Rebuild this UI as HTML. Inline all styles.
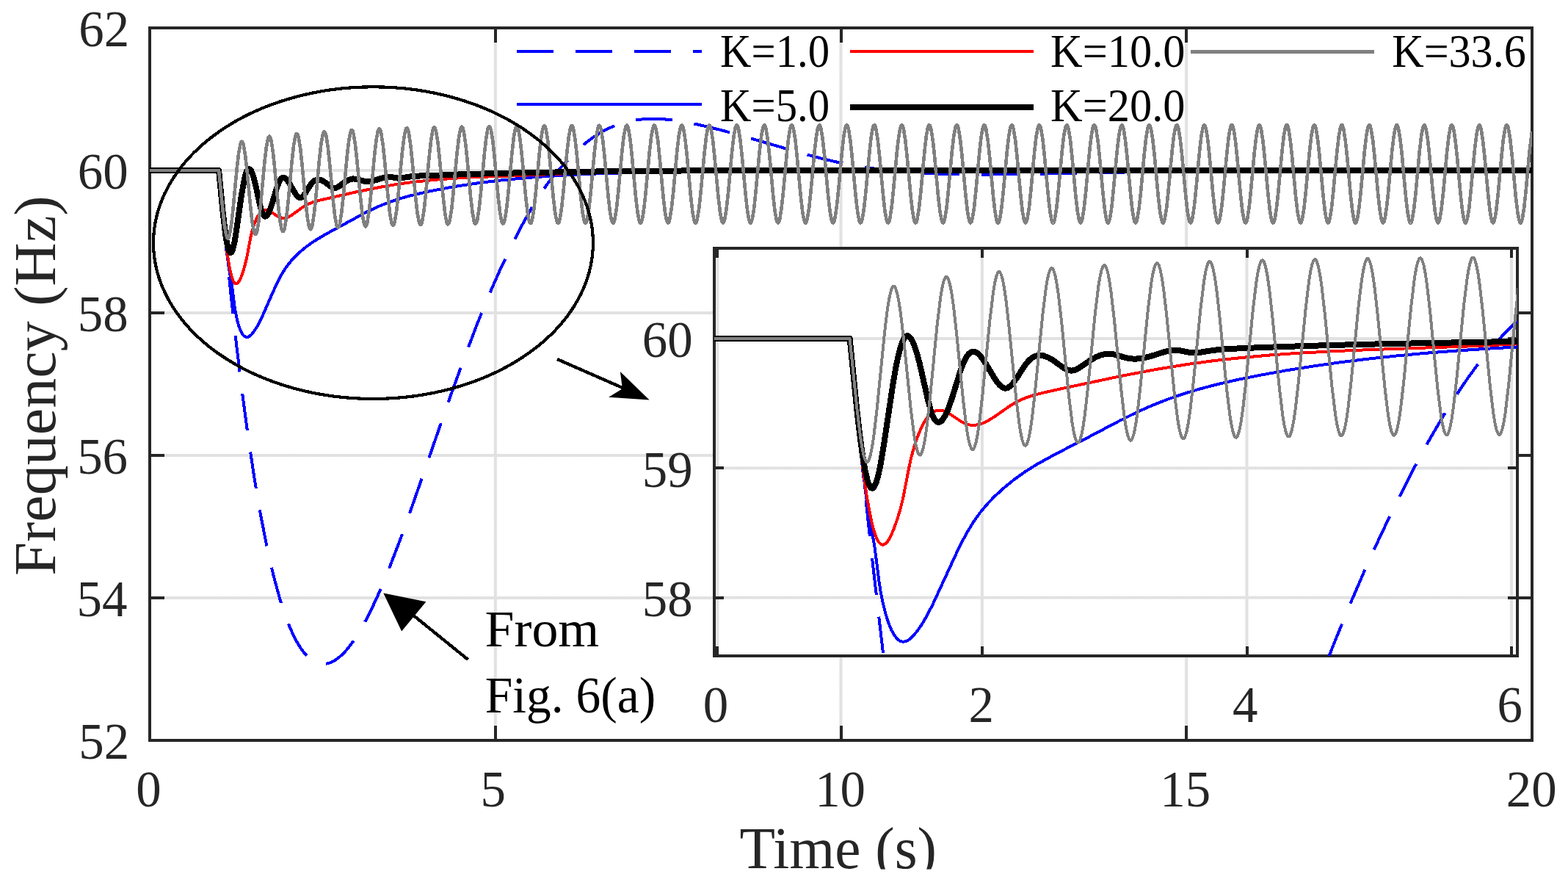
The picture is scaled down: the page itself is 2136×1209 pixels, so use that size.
<!DOCTYPE html>
<html><head><meta charset="utf-8"><title>Frequency response</title><style>html,body{margin:0;padding:0;background:#fff;}svg{display:block;}</style></head>
<body>
<svg width="2136" height="1209" viewBox="0 0 2136 1209">
<defs><pattern id="chk" width="2" height="2" patternUnits="userSpaceOnUse"><rect width="2" height="2" fill="#fff"/><rect width="1" height="1" fill="#c4c4c4"/><rect x="1" y="1" width="1" height="1" fill="#c4c4c4"/></pattern><clipPath id="cm"><rect x="204.0" y="38.0" width="1883.0" height="970.0"/></clipPath><clipPath id="ci"><rect x="973.0" y="338.0" width="1094.0" height="555.0"/></clipPath><clipPath id="cb"><rect x="0" y="0" width="2136" height="1183.5"/></clipPath></defs>
<rect width="2136" height="1209" fill="#fff"/>
<rect x="672.8" y="38.0" width="4.0" height="970.0" fill="url(#chk)"/>
<rect x="1143.5" y="38.0" width="4.0" height="970.0" fill="url(#chk)"/>
<rect x="1614.2" y="38.0" width="4.0" height="970.0" fill="url(#chk)"/>
<rect x="204.0" y="812.0" width="1883.0" height="4.0" fill="url(#chk)"/>
<rect x="204.0" y="618.0" width="1883.0" height="4.0" fill="url(#chk)"/>
<rect x="204.0" y="424.0" width="1883.0" height="4.0" fill="url(#chk)"/>
<rect x="204.0" y="230.0" width="1883.0" height="4.0" fill="url(#chk)"/>
<g stroke="#262626" stroke-width="4" fill="none" shape-rendering="crispEdges">
<rect x="204.0" y="38.0" width="1883.0" height="970.0" stroke-linejoin="miter"/>
<path d="M674.8 1008.0 V988.0 M674.8 38.0 V58.0 M1145.5 1008.0 V988.0 M1145.5 38.0 V58.0 M1616.2 1008.0 V988.0 M1616.2 38.0 V58.0 M204.0 814.0 H224.0 M2087.0 814.0 H2067.0 M204.0 620.0 H224.0 M2087.0 620.0 H2067.0 M204.0 426.0 H224.0 M2087.0 426.0 H2067.0 M204.0 232.0 H224.0 M2087.0 232.0 H2067.0 "/>
</g>
<g clip-path="url(#cm)" fill="none" stroke-linejoin="round" shape-rendering="crispEdges">
<path d="M204.0 232.0 L298.1 232.0 L305.9 316.0 L313.9 395.0 L322.0 468.4 L330.2 536.2 L338.4 597.4 L346.7 652.3 L355.1 701.3 L363.7 744.9 L372.3 782.7 L381.2 815.3 L385.8 829.7 L390.3 842.6 L395.0 854.4 L399.7 864.9 L404.5 874.0 L409.3 882.0 L414.2 888.7 L419.3 894.2 L424.4 898.4 L429.6 901.5 L435.0 903.3 L440.5 903.9 L444.6 903.6 L448.7 902.6 L452.9 900.9 L457.1 898.5 L461.4 895.4 L465.7 891.6 L470.1 887.2 L474.5 882.1 L483.6 869.7 L493.0 854.5 L502.6 836.4 L512.7 815.3 L520.5 797.4 L528.8 777.4 L546.7 730.6 L563.6 683.1 L613.4 539.8 L632.3 487.9 L649.7 441.9 L664.5 405.3 L680.2 369.6 L696.7 334.8 L712.3 304.4 L726.8 278.9 L733.8 267.7 L740.7 257.4 L747.2 248.4 L753.9 239.7 L761.3 231.1 L769.6 221.9 L779.0 212.0 L787.4 203.8 L795.1 196.9 L802.8 190.8 L810.8 185.1 L819.0 180.1 L827.3 175.6 L835.8 171.8 L845.4 168.3 L855.3 165.5 L865.6 163.5 L876.1 162.3 L887.0 161.7 L898.4 161.9 L910.4 162.8 L923.3 164.4 L935.7 166.5 L949.6 169.3 L980.7 176.7 L1011.8 185.2 L1096.2 209.8 L1121.7 216.4 L1144.6 221.7 L1172.5 226.9 L1201.6 231.0 L1232.1 234.1 L1264.5 236.2 L1301.4 237.4 L1343.5 237.6 L1446.8 236.2 L1541.9 234.3 L1647.6 233.2 L1819.1 232.4 L2087.0 232.1" stroke="#0000ff" stroke-width="4.0" stroke-dasharray="50 30" stroke-dashoffset="0.0"/>
<path d="M204.0 232.0 L298.1 232.0 L299.6 240.2 L301.2 254.6 L306.7 320.5 L309.1 344.5 L311.3 361.4 L315.8 387.8 L320.2 422.3 L323.7 438.2 L325.6 444.7 L327.6 450.0 L329.6 454.0 L331.7 456.8 L333.9 458.5 L336.2 459.1 L337.7 458.8 L339.3 458.1 L342.8 455.3 L346.6 450.4 L350.7 443.8 L358.1 429.0 L371.8 397.6 L377.8 384.8 L383.7 373.4 L389.5 364.2 L397.0 354.8 L406.1 345.3 L416.3 336.6 L427.5 328.6 L442.3 319.7 L498.3 289.2 L515.4 281.1 L533.1 274.2 L544.5 270.5 L556.6 267.0 L584.4 260.5 L619.8 253.9 L657.2 248.4 L683.8 245.3 L712.0 242.5 L742.4 240.2 L775.2 238.1 L812.7 236.5 L854.6 235.2 L955.9 233.4 L1067.8 232.6 L1228.1 232.2 L2087.0 232.0" stroke="#0000ff" stroke-width="4.0"/>
<path d="M204.0 232.0 L298.1 232.0 L304.3 301.4 L307.3 328.5 L310.3 350.1 L313.1 366.3 L315.9 377.7 L317.3 381.6 L318.7 384.3 L320.1 385.9 L321.6 386.5 L322.8 386.2 L324.0 385.3 L326.5 381.6 L329.2 375.4 L332.2 366.4 L336.1 351.3 L341.8 320.9 L344.1 312.4 L346.8 304.2 L349.5 297.7 L352.3 292.6 L355.2 288.9 L358.2 286.6 L361.4 285.7 L364.9 286.2 L368.7 288.0 L376.7 293.7 L380.2 295.6 L384.3 296.8 L388.6 296.6 L392.7 295.4 L397.2 293.0 L412.3 282.2 L418.1 278.7 L425.4 275.6 L434.0 273.0 L485.9 261.2 L523.2 253.8 L539.9 251.0 L556.8 248.6 L593.0 244.7 L618.3 242.8 L646.6 241.2 L736.9 237.8 L789.5 235.4 L849.3 233.8 L925.0 232.8 L1019.7 232.3 L1161.6 232.1 L2087.0 232.0" stroke="#ff0000" stroke-width="4.0"/>
<path d="M204.0 232.0 L298.1 232.0 L303.2 285.2 L307.1 318.7 L308.9 330.0 L310.7 338.0 L312.3 342.6 L313.2 343.7 L314.0 344.1 L315.4 343.2 L316.8 340.2 L318.2 335.3 L319.7 328.4 L322.2 312.8 L329.0 265.3 L332.8 244.4 L334.4 237.9 L335.9 233.5 L337.4 230.9 L339.0 229.9 L340.5 230.6 L342.1 232.6 L343.7 236.1 L345.4 241.2 L348.6 253.7 L354.3 280.2 L356.4 287.9 L358.8 293.0 L360.1 294.3 L361.3 294.7 L362.8 294.2 L364.3 292.6 L365.9 289.9 L367.6 286.1 L370.7 277.2 L376.9 256.1 L379.9 248.2 L381.4 245.4 L382.8 243.4 L384.3 242.2 L385.9 241.7 L388.4 242.5 L391.0 245.0 L394.1 249.4 L400.6 260.8 L403.4 265.1 L406.3 268.2 L407.7 269.0 L408.9 269.2 L410.1 269.0 L411.4 268.3 L414.1 265.7 L422.6 252.2 L425.6 248.3 L428.9 245.7 L432.4 244.6 L435.5 244.7 L439.0 245.9 L442.8 248.2 L451.3 254.6 L453.8 255.7 L456.0 256.0 L458.2 255.6 L460.6 254.5 L469.0 248.4 L473.5 245.7 L477.3 244.1 L480.9 243.4 L485.8 243.8 L496.5 246.8 L501.9 247.2 L508.7 246.2 L522.4 241.8 L528.5 240.7 L532.2 240.8 L540.3 242.4 L543.9 242.7 L558.7 240.5 L571.6 239.5 L626.8 237.4 L688.9 235.7 L835.3 233.1 L977.3 232.2 L2087.0 232.0" stroke="#000000" stroke-width="8.0"/>
<path d="M204.0 232.0 L298.1 232.0 L303.5 285.9 L305.8 306.4 L308.3 320.3 L309.5 323.6 L310.1 324.4 L310.6 324.5 L311.8 323.0 L312.9 319.1 L315.4 303.9 L317.6 283.2 L322.8 228.4 L325.3 207.4 L327.6 195.8 L328.7 193.2 L329.3 192.8 L329.8 192.9 L330.9 194.6 L332.0 198.6 L334.4 213.7 L336.6 233.2 L341.5 284.5 L343.9 304.5 L346.1 315.9 L347.1 318.5 L347.6 319.1 L348.1 319.2 L349.3 317.7 L350.5 313.7 L352.9 298.0 L355.2 276.9 L360.3 222.0 L362.8 200.6 L365.0 188.9 L366.1 186.2 L366.6 185.7 L367.1 185.6 L368.2 187.3 L369.4 191.2 L371.8 206.4 L374.0 226.8 L379.0 279.7 L381.4 300.4 L383.6 311.8 L384.6 314.5 L385.1 315.1 L385.7 315.2 L386.8 313.7 L388.0 309.7 L390.4 294.1 L392.7 273.0 L397.8 218.1 L400.2 197.1 L402.4 185.3 L403.5 182.5 L404.0 182.0 L404.5 181.9 L405.7 183.6 L406.8 187.5 L409.2 202.6 L411.4 223.0 L416.5 276.6 L418.9 297.0 L421.0 308.7 L422.1 311.4 L423.1 312.2 L424.2 310.8 L425.4 306.9 L427.8 291.5 L430.1 270.5 L435.2 215.2 L437.7 194.2 L439.9 182.6 L440.9 179.8 L441.5 179.2 L442.0 179.2 L443.1 180.7 L444.3 184.8 L446.7 200.0 L448.9 220.5 L453.9 274.3 L456.3 294.8 L458.5 306.4 L459.5 309.2 L460.6 310.0 L461.7 308.6 L462.9 304.6 L465.3 289.2 L467.6 268.2 L472.7 213.4 L475.1 192.3 L477.3 180.6 L478.4 177.7 L478.9 177.1 L479.4 177.0 L480.5 178.5 L481.7 182.6 L484.1 197.7 L486.3 218.2 L491.4 272.6 L493.8 293.1 L496.0 304.8 L497.0 307.5 L498.0 308.3 L499.2 306.9 L500.3 302.9 L502.8 287.5 L505.1 266.4 L510.1 211.6 L512.6 190.6 L514.7 178.9 L515.8 176.2 L516.3 175.6 L516.8 175.4 L518.0 176.9 L519.1 180.8 L521.6 196.3 L523.8 216.8 L528.9 271.3 L531.3 291.9 L533.4 303.3 L534.4 306.2 L535.5 307.0 L536.0 306.7 L536.6 305.6 L537.8 301.7 L540.3 286.2 L542.5 265.1 L547.6 210.3 L550.1 189.3 L552.2 177.8 L553.2 175.0 L554.2 174.2 L555.4 175.6 L556.6 179.5 L559.0 194.9 L561.3 215.8 L566.3 270.4 L568.7 291.0 L570.9 302.4 L571.9 305.3 L572.9 306.1 L573.5 305.7 L574.1 304.7 L575.3 300.7 L577.7 285.2 L580.0 264.1 L585.0 209.7 L587.5 188.6 L589.6 176.9 L590.7 174.1 L591.7 173.3 L592.8 174.7 L594.0 178.6 L596.5 194.1 L598.7 215.1 L603.8 269.3 L606.2 290.3 L608.3 301.8 L609.4 304.6 L610.4 305.4 L611.5 304.1 L612.7 300.2 L615.2 284.8 L617.4 263.8 L622.5 208.9 L625.0 187.8 L627.1 176.3 L628.1 173.4 L629.1 172.6 L630.3 173.9 L631.5 177.8 L633.9 193.1 L636.2 214.1 L641.2 268.8 L643.7 289.8 L645.8 301.3 L646.8 304.1 L647.9 304.9 L649.0 303.5 L650.2 299.6 L652.6 284.2 L654.9 263.1 L660.0 208.3 L662.4 187.2 L664.5 175.7 L665.6 172.9 L666.6 172.0 L667.7 173.4 L668.9 177.3 L671.4 192.7 L673.6 213.7 L678.7 268.5 L681.1 289.2 L683.2 300.7 L684.3 303.6 L685.3 304.5 L685.9 304.2 L686.5 303.1 L687.7 299.2 L690.1 283.7 L692.4 262.6 L697.5 207.8 L699.9 186.7 L702.0 175.2 L703.1 172.5 L704.1 171.6 L705.2 173.0 L706.4 176.9 L708.8 192.4 L711.1 213.4 L716.2 268.2 L718.6 288.9 L720.7 300.5 L721.7 303.3 L722.8 304.2 L723.3 303.9 L724.0 302.8 L725.1 298.9 L727.6 283.3 L729.8 262.2 L734.9 207.3 L737.3 186.6 L739.4 175.1 L740.5 172.2 L741.5 171.3 L742.1 171.7 L742.7 172.7 L743.9 176.7 L746.3 192.2 L748.6 213.3 L753.6 267.6 L756.1 288.8 L758.2 300.3 L759.2 303.1 L760.3 304.0 L761.4 302.7 L762.6 298.8 L765.0 283.4 L767.3 262.4 L772.4 207.0 L774.8 186.3 L776.9 174.8 L778.0 171.9 L779.0 171.1 L780.1 172.4 L781.3 176.3 L783.7 191.6 L786.0 212.7 L791.1 267.6 L793.5 288.7 L795.7 300.2 L796.7 303.0 L797.7 303.9 L798.2 303.5 L798.9 302.5 L800.0 298.6 L802.5 283.2 L804.7 262.1 L809.8 207.2 L812.3 186.1 L814.4 174.6 L815.4 171.7 L816.5 170.9 L817.6 172.2 L818.8 176.1 L821.2 191.6 L823.5 212.6 L828.6 267.5 L831.0 288.6 L833.1 300.1 L834.2 302.9 L835.2 303.7 L835.7 303.4 L836.3 302.4 L837.5 298.4 L840.0 283.0 L842.2 261.9 L847.3 207.0 L849.7 185.8 L851.9 174.4 L852.9 171.6 L853.9 170.7 L854.5 171.1 L855.1 172.1 L856.2 176.0 L858.7 191.5 L860.9 212.6 L866.0 267.5 L868.5 288.6 L870.6 300.1 L871.6 302.8 L872.6 303.7 L873.2 303.3 L873.8 302.3 L875.0 298.3 L877.4 282.8 L879.7 261.7 L884.8 206.7 L887.2 186.0 L889.3 174.4 L890.3 171.5 L891.4 170.6 L891.9 171.0 L892.5 172.0 L893.7 176.0 L896.2 191.5 L898.4 212.6 L903.5 267.6 L905.9 288.3 L908.0 299.9 L909.1 302.7 L910.1 303.6 L910.7 303.2 L911.3 302.2 L912.4 298.2 L914.9 282.7 L917.2 261.5 L922.2 207.0 L924.6 185.8 L926.8 174.3 L927.8 171.4 L928.8 170.5 L930.0 171.9 L931.1 175.7 L933.6 191.1 L935.8 212.2 L941.0 267.6 L943.4 288.3 L945.5 299.8 L946.5 302.7 L947.5 303.6 L948.1 303.2 L948.7 302.2 L949.9 298.3 L952.3 282.9 L954.6 261.8 L959.7 206.9 L962.1 185.7 L964.2 174.2 L965.3 171.3 L966.3 170.5 L966.8 170.8 L967.4 171.8 L968.6 175.7 L971.1 191.1 L973.3 212.2 L978.4 267.2 L980.9 288.3 L983.0 299.9 L984.0 302.7 L985.0 303.5 L985.6 303.2 L986.2 302.2 L987.3 298.3 L989.8 282.8 L992.1 261.7 L997.1 206.7 L999.6 185.6 L1001.7 174.1 L1002.7 171.3 L1003.7 170.4 L1004.3 170.8 L1004.9 171.8 L1006.1 175.7 L1008.5 191.2 L1010.8 212.3 L1015.9 267.3 L1018.3 288.4 L1020.4 299.9 L1021.5 302.7 L1022.5 303.5 L1023.0 303.2 L1023.6 302.1 L1024.8 298.2 L1027.3 282.7 L1029.5 261.6 L1034.6 206.6 L1037.1 185.5 L1039.2 174.0 L1040.2 171.2 L1041.2 170.4 L1041.8 170.7 L1042.4 171.8 L1043.6 175.7 L1046.0 191.2 L1048.3 212.4 L1053.3 267.4 L1055.7 288.1 L1057.9 299.7 L1058.9 302.6 L1059.9 303.5 L1060.5 303.1 L1061.1 302.1 L1062.3 298.1 L1064.7 282.6 L1067.0 261.4 L1072.1 206.4 L1074.5 185.7 L1076.6 174.1 L1077.6 171.2 L1078.7 170.4 L1079.2 170.7 L1079.9 171.8 L1081.0 175.7 L1083.5 191.3 L1085.7 212.5 L1090.8 267.0 L1093.2 288.2 L1095.3 299.7 L1096.4 302.6 L1097.4 303.5 L1097.9 303.2 L1098.5 302.1 L1099.7 298.3 L1102.2 282.9 L1104.4 261.8 L1109.6 206.3 L1112.0 185.6 L1114.1 174.0 L1115.1 171.2 L1116.1 170.3 L1116.7 170.7 L1117.3 171.7 L1118.5 175.5 L1120.9 191.0 L1123.2 212.1 L1128.2 267.1 L1130.7 288.2 L1132.8 299.8 L1133.8 302.6 L1134.8 303.5 L1135.4 303.1 L1136.0 302.1 L1137.2 298.2 L1139.6 282.8 L1141.9 261.7 L1147.0 206.7 L1149.4 185.5 L1151.5 174.0 L1152.6 171.2 L1153.6 170.3 L1154.1 170.6 L1154.8 171.7 L1155.9 175.6 L1158.4 191.0 L1160.6 212.1 L1165.7 267.2 L1168.2 288.3 L1170.3 299.8 L1171.3 302.6 L1172.3 303.5 L1172.9 303.1 L1173.5 302.1 L1174.7 298.2 L1177.1 282.7 L1179.4 261.6 L1184.5 206.6 L1186.9 185.4 L1189.0 173.9 L1190.1 171.1 L1191.0 170.3 L1191.6 170.6 L1192.2 171.7 L1193.4 175.6 L1195.8 191.1 L1198.1 212.2 L1203.2 267.3 L1205.6 288.4 L1207.8 299.8 L1208.8 302.6 L1209.8 303.5 L1210.3 303.1 L1211.0 302.1 L1212.1 298.1 L1214.6 282.6 L1216.8 261.5 L1221.9 206.4 L1224.3 185.7 L1226.4 174.0 L1227.5 171.2 L1228.5 170.3 L1229.1 170.6 L1229.7 171.7 L1230.9 175.6 L1233.3 191.2 L1235.6 212.3 L1240.7 267.4 L1243.1 288.1 L1245.2 299.7 L1246.2 302.6 L1247.2 303.5 L1247.8 303.2 L1248.4 302.1 L1249.6 298.3 L1252.0 282.9 L1254.3 261.8 L1259.4 206.3 L1261.8 185.6 L1263.9 174.0 L1265.0 171.1 L1265.9 170.3 L1266.5 170.6 L1267.1 171.6 L1268.3 175.5 L1270.7 190.9 L1273.0 211.9 L1278.1 267.5 L1280.5 288.2 L1282.7 299.8 L1283.7 302.6 L1284.7 303.5 L1285.2 303.1 L1285.9 302.1 L1287.0 298.2 L1289.5 282.8 L1291.7 261.7 L1296.8 206.7 L1299.3 185.5 L1301.4 174.0 L1302.4 171.1 L1303.4 170.3 L1304.0 170.6 L1304.6 171.6 L1305.8 175.5 L1308.2 190.9 L1310.5 212.1 L1315.6 267.1 L1318.0 288.3 L1320.1 299.8 L1321.2 302.6 L1322.2 303.5 L1322.7 303.1 L1323.3 302.1 L1324.5 298.2 L1327.0 282.7 L1329.2 261.6 L1334.3 206.6 L1336.7 185.4 L1338.9 173.9 L1339.9 171.1 L1340.9 170.3 L1341.5 170.6 L1342.1 171.6 L1343.2 175.5 L1345.7 191.0 L1348.0 212.2 L1353.0 267.2 L1355.5 288.3 L1357.6 299.8 L1358.6 302.6 L1359.6 303.5 L1360.2 303.1 L1360.8 302.1 L1362.0 298.2 L1364.4 282.7 L1366.7 261.5 L1371.8 206.5 L1374.2 185.3 L1376.3 173.9 L1377.4 171.1 L1378.4 170.2 L1378.9 170.6 L1379.5 171.6 L1380.7 175.6 L1383.2 191.1 L1385.4 212.3 L1390.5 267.3 L1392.9 288.1 L1395.0 299.7 L1396.1 302.6 L1397.1 303.5 L1397.6 303.2 L1398.2 302.2 L1399.4 298.3 L1401.9 283.0 L1404.1 261.9 L1409.2 206.4 L1411.6 185.6 L1413.8 174.0 L1414.8 171.1 L1415.8 170.2 L1416.4 170.6 L1417.0 171.6 L1418.1 175.4 L1420.6 190.8 L1422.8 211.9 L1428.0 267.4 L1430.4 288.2 L1432.5 299.7 L1433.5 302.6 L1434.5 303.5 L1435.1 303.2 L1435.7 302.1 L1436.9 298.3 L1439.3 282.9 L1441.6 261.8 L1446.7 206.3 L1449.1 185.5 L1451.2 174.0 L1452.3 171.1 L1453.3 170.2 L1453.8 170.6 L1454.4 171.6 L1455.6 175.5 L1458.1 190.9 L1460.3 212.0 L1465.4 267.0 L1467.9 288.2 L1470.0 299.8 L1471.0 302.6 L1472.0 303.5 L1472.6 303.1 L1473.2 302.1 L1474.4 298.2 L1476.8 282.8 L1479.1 261.7 L1484.1 206.6 L1486.6 185.4 L1488.7 173.9 L1489.7 171.1 L1490.7 170.2 L1491.3 170.6 L1491.9 171.6 L1493.1 175.5 L1495.5 191.0 L1497.8 212.1 L1502.9 267.1 L1505.3 288.3 L1507.4 299.8 L1508.5 302.6 L1509.5 303.5 L1510.0 303.1 L1510.6 302.1 L1511.8 298.2 L1514.3 282.7 L1516.5 261.6 L1521.6 206.5 L1524.1 185.4 L1526.2 173.9 L1527.2 171.1 L1528.2 170.2 L1528.8 170.6 L1529.4 171.6 L1530.6 175.5 L1533.0 191.0 L1535.3 212.2 L1540.4 267.2 L1542.8 288.0 L1544.9 299.7 L1545.9 302.6 L1546.9 303.5 L1547.5 303.2 L1548.1 302.2 L1549.2 298.3 L1551.7 283.0 L1554.0 261.9 L1559.1 206.4 L1561.5 185.6 L1563.6 174.0 L1564.6 171.1 L1565.6 170.2 L1566.2 170.5 L1566.8 171.5 L1568.0 175.4 L1570.4 190.7 L1572.7 211.8 L1577.8 267.3 L1580.2 288.1 L1582.3 299.7 L1583.4 302.6 L1584.4 303.5 L1584.9 303.2 L1585.5 302.2 L1586.7 298.3 L1589.2 282.9 L1591.4 261.8 L1596.6 206.3 L1599.0 185.5 L1601.1 174.0 L1602.1 171.1 L1603.1 170.2 L1603.7 170.5 L1604.3 171.6 L1605.5 175.4 L1607.9 190.8 L1610.2 211.9 L1615.3 267.4 L1617.7 288.2 L1619.8 299.8 L1620.9 302.6 L1621.8 303.5 L1622.4 303.2 L1623.0 302.1 L1624.2 298.3 L1626.6 282.8 L1628.9 261.7 L1634.0 206.7 L1636.4 185.5 L1638.6 173.9 L1639.6 171.1 L1640.6 170.2 L1641.1 170.6 L1641.8 171.6 L1642.9 175.5 L1645.4 190.9 L1647.6 212.0 L1652.7 267.1 L1655.2 288.3 L1657.3 299.8 L1658.3 302.6 L1659.3 303.5 L1659.9 303.1 L1660.5 302.1 L1661.7 298.2 L1664.1 282.8 L1666.4 261.6 L1671.5 206.6 L1673.9 185.4 L1676.0 173.9 L1677.1 171.1 L1678.0 170.2 L1678.6 170.6 L1679.2 171.6 L1680.4 175.5 L1682.9 191.0 L1685.1 212.1 L1690.2 267.2 L1692.6 288.3 L1694.8 299.8 L1695.8 302.6 L1696.8 303.5 L1697.4 303.1 L1698.0 302.1 L1699.1 298.2 L1701.6 282.7 L1703.8 261.5 L1708.9 206.5 L1711.4 185.3 L1713.5 173.8 L1714.5 171.0 L1715.5 170.2 L1716.1 170.6 L1716.7 171.6 L1717.9 175.6 L1720.3 191.1 L1722.6 212.2 L1727.7 267.3 L1730.1 288.1 L1732.2 299.7 L1733.2 302.6 L1734.2 303.5 L1734.8 303.2 L1735.4 302.2 L1736.6 298.3 L1739.0 283.0 L1741.3 261.9 L1746.4 206.4 L1748.8 185.6 L1750.9 174.0 L1752.0 171.1 L1752.9 170.2 L1753.5 170.5 L1754.1 171.5 L1755.3 175.4 L1757.7 190.8 L1760.0 211.9 L1765.1 267.4 L1767.5 288.2 L1769.7 299.7 L1770.7 302.6 L1771.7 303.5 L1772.2 303.2 L1772.9 302.2 L1774.0 298.3 L1776.5 282.9 L1778.7 261.8 L1783.9 206.3 L1786.3 185.5 L1788.4 173.9 L1789.4 171.1 L1790.4 170.2 L1791.0 170.5 L1791.6 171.6 L1792.8 175.4 L1795.2 190.9 L1797.5 212.0 L1802.6 267.5 L1805.0 288.2 L1807.1 299.8 L1808.2 302.6 L1809.2 303.5 L1809.7 303.2 L1810.3 302.1 L1811.5 298.2 L1814.0 282.8 L1816.2 261.7 L1821.3 206.6 L1823.8 185.4 L1825.9 173.9 L1826.9 171.1 L1827.9 170.2 L1828.5 170.6 L1829.1 171.6 L1830.2 175.5 L1832.7 190.9 L1835.0 212.1 L1840.0 267.1 L1842.5 288.3 L1844.6 299.8 L1845.6 302.6 L1846.6 303.5 L1847.2 303.1 L1847.8 302.1 L1849.0 298.2 L1851.4 282.7 L1853.7 261.6 L1858.8 206.5 L1861.2 185.4 L1863.3 173.9 L1864.4 171.1 L1865.4 170.2 L1865.9 170.6 L1866.5 171.6 L1867.7 175.5 L1870.2 191.0 L1872.4 212.2 L1877.5 267.2 L1879.9 288.0 L1882.0 299.7 L1883.1 302.6 L1884.1 303.5 L1884.6 303.2 L1885.2 302.2 L1886.4 298.4 L1888.9 283.0 L1891.1 262.0 L1896.2 206.4 L1898.7 185.3 L1900.8 174.0 L1901.8 171.1 L1902.8 170.2 L1903.4 170.5 L1904.0 171.5 L1905.1 175.4 L1907.6 190.7 L1909.9 211.8 L1915.0 267.3 L1917.4 288.1 L1919.5 299.7 L1920.5 302.6 L1921.5 303.5 L1922.1 303.2 L1922.7 302.2 L1923.9 298.3 L1926.3 282.9 L1928.6 261.9 L1933.7 206.3 L1936.1 185.5 L1938.2 174.0 L1939.3 171.1 L1940.3 170.2 L1940.8 170.5 L1941.4 171.5 L1942.6 175.4 L1945.1 190.8 L1947.3 211.9 L1952.5 267.4 L1954.9 288.2 L1957.0 299.8 L1958.0 302.6 L1959.0 303.5 L1959.6 303.2 L1960.2 302.1 L1961.4 298.3 L1963.8 282.8 L1966.1 261.7 L1971.2 206.2 L1973.6 185.5 L1975.7 173.9 L1976.7 171.1 L1977.7 170.2 L1978.3 170.5 L1978.9 171.6 L1980.1 175.5 L1982.5 190.9 L1984.8 212.0 L1989.9 267.1 L1992.3 288.3 L1994.4 299.8 L1995.5 302.6 L1996.5 303.5 L1997.0 303.2 L1997.6 302.1 L1998.8 298.2 L2001.3 282.8 L2003.5 261.6 L2008.6 206.6 L2011.1 185.4 L2013.2 173.9 L2014.2 171.1 L2015.2 170.2 L2015.8 170.6 L2016.4 171.6 L2017.6 175.5 L2020.0 191.0 L2022.3 212.1 L2027.4 267.2 L2029.8 288.0 L2031.9 299.7 L2032.9 302.6 L2033.9 303.5 L2034.9 302.6 L2035.9 299.7 L2038.0 288.4 L2040.4 267.3 L2045.6 211.7 L2047.8 190.7 L2050.3 175.3 L2051.5 171.5 L2052.1 170.5 L2052.6 170.2 L2053.2 170.5 L2053.8 171.5 L2055.0 175.3 L2057.4 190.7 L2059.7 211.7 L2064.8 267.3 L2067.3 288.4 L2069.3 299.7 L2070.4 302.6 L2071.4 303.5 L2071.9 303.2 L2072.5 302.3 L2073.7 298.5 L2076.1 283.7 L2078.4 262.4 L2083.9 202.7 L2087.0 179.0" stroke="#808080" stroke-width="4.6"/>
</g>
<ellipse cx="508.45" cy="330.65" rx="299.45" ry="212.35" fill="none" stroke="#000" stroke-width="4.2" shape-rendering="crispEdges"/>
<g stroke="#000" stroke-width="4.3" fill="none" shape-rendering="crispEdges"><path d="M759 489 L856 531.5"/><path d="M637.5 898 L556 832"/></g>
<path d="M884.6 544.5 L844.9 506 L847.9 529.2 L829.1 540.8 Z" fill="#000"/>
<path d="M522.3 807.4 L580.4 819.3 L547.1 859.5 Z" fill="#000"/>
<g font-family="'Liberation Serif', 'Times New Roman', serif">
<text transform="translate(107.23 63.20) scale(1.0000 1)" font-size="68.9" fill="#262626">62</text>
<text transform="translate(105.86 257.20) scale(1.0000 1)" font-size="68.9" fill="#262626">60</text>
<text transform="translate(105.86 451.20) scale(1.0000 1)" font-size="68.9" fill="#262626">58</text>
<text transform="translate(105.17 645.20) scale(1.0000 1)" font-size="68.9" fill="#262626">56</text>
<text transform="translate(104.48 839.20) scale(1.0000 1)" font-size="68.9" fill="#262626">54</text>
<text transform="translate(107.23 1033.20) scale(1.0000 1)" font-size="68.9" fill="#262626">52</text>
<text transform="translate(185.33 1098.00) scale(1.0000 1)" font-size="68.9" fill="#262626">0</text>
<text transform="translate(654.54 1098.00) scale(1.0000 1)" font-size="68.9" fill="#262626">5</text>
<text transform="translate(1110.13 1098.00) scale(1.0000 1)" font-size="68.9" fill="#262626">10</text>
<text transform="translate(1580.28 1098.00) scale(1.0000 1)" font-size="68.9" fill="#262626">15</text>
<text transform="translate(2051.80 1098.00) scale(1.0000 1)" font-size="68.9" fill="#262626">20</text>
<text transform="translate(660.54 880.20) scale(1.0337 1)" font-size="69.5" fill="#000">From</text>
<text transform="translate(660.67 969.80) scale(0.9718 1)" font-size="69.5" fill="#000">Fig. 6(a)</text>
<text transform="translate(981.04 91.40) scale(0.9391 1)" font-size="62.6" fill="#000">K=1.0</text>
<text transform="translate(981.04 164.50) scale(0.9391 1)" font-size="62.6" fill="#000">K=5.0</text>
<text transform="translate(1430.99 90.90) scale(0.9655 1)" font-size="62.6" fill="#000">K=10.0</text>
<text transform="translate(1430.99 165.00) scale(0.9655 1)" font-size="62.6" fill="#000">K=20.0</text>
<text transform="translate(1896.19 91.10) scale(0.9612 1)" font-size="62.6" fill="#000">K=33.6</text>
<g clip-path="url(#cb)"><text transform="translate(1007.61 1181.60) scale(0.9928 1)" font-size="80" fill="#262626">Time (s)</text></g>
<text transform="translate(74.5 783.76) rotate(-90) scale(1.0265 1)" font-size="80" fill="#262626">Frequency (Hz)</text>
</g>
<g fill="none" shape-rendering="crispEdges">
<path d="M704 70 H956" stroke="#0000ff" stroke-width="4" stroke-dasharray="50 30"/>
<path d="M704 142 H956" stroke="#0000ff" stroke-width="4"/>
<path d="M1158.3 70.4 H1408" stroke="#ff0000" stroke-width="4"/>
<path d="M1158.3 145.8 H1408" stroke="#000" stroke-width="8"/>
<path d="M1622.2 70.5 H1871.5" stroke="#808080" stroke-width="4.5"/>
</g>
<rect x="973.0" y="338.0" width="1094.0" height="555.0" fill="#fff"/>
<rect x="975.3" y="338.0" width="4.0" height="555.0" fill="url(#chk)"/>
<rect x="1335.9" y="338.0" width="4.0" height="555.0" fill="url(#chk)"/>
<rect x="1696.5" y="338.0" width="4.0" height="555.0" fill="url(#chk)"/>
<rect x="2057.1" y="338.0" width="4.0" height="555.0" fill="url(#chk)"/>
<rect x="973.0" y="811.6" width="1094.0" height="4.0" fill="url(#chk)"/>
<rect x="973.0" y="635.3" width="1094.0" height="4.0" fill="url(#chk)"/>
<rect x="973.0" y="459.0" width="1094.0" height="4.0" fill="url(#chk)"/>
<g stroke="#262626" stroke-width="4" fill="none" shape-rendering="crispEdges">
<rect x="973.0" y="338.0" width="1094.0" height="555.0" stroke-linejoin="miter"/>
<path d="M977.3 893.0 V880.0 M977.3 338.0 V351.0 M1337.9 893.0 V880.0 M1337.9 338.0 V351.0 M1698.5 893.0 V880.0 M1698.5 338.0 V351.0 M2059.1 893.0 V880.0 M2059.1 338.0 V351.0 M973.0 813.6 H986.0 M2067.0 813.6 H2054.0 M973.0 637.3 H986.0 M2067.0 637.3 H2054.0 M973.0 461.0 H986.0 M2067.0 461.0 H2054.0 "/>
</g>
<g clip-path="url(#ci)" fill="none" stroke-linejoin="round" shape-rendering="crispEdges">
<path d="M968.3 461.0 L1157.6 461.0 L1172.4 613.1 L1187.5 755.4 L1202.9 888.3 L1218.6 1011.0 L1226.4 1067.7 L1234.3 1121.7 L1242.2 1173.0 L1250.1 1221.5 L1258.0 1267.2 L1266.0 1310.4 L1274.1 1351.2 L1282.3 1389.5 L1290.5 1425.2 L1298.8 1458.4 L1307.2 1489.3 L1315.7 1517.9 L1324.3 1544.0 L1333.0 1567.9 L1341.8 1589.4 L1350.7 1608.6 L1359.8 1625.5 L1369.0 1640.2 L1378.3 1652.7 L1383.1 1658.1 L1387.9 1662.9 L1392.7 1667.2 L1397.6 1671.0 L1402.5 1674.2 L1407.5 1676.9 L1412.6 1679.0 L1417.7 1680.6 L1422.9 1681.7 L1428.0 1682.2" stroke="#0000ff" stroke-width="4.0" stroke-dasharray="50 30" stroke-dashoffset="-10.0"/>
<path d="M1698.5 1191.6 L1734.4 1092.8 L1762.0 1018.4 L1790.5 944.0 L1818.0 874.2 L1839.1 822.7 L1858.9 776.8 L1880.0 730.5 L1901.9 685.1 L1925.6 638.5 L1948.2 596.9 L1969.9 559.9 L1980.5 543.1 L1990.9 527.4 L2000.5 513.4 L2010.0 500.4 L2019.4 488.4 L2029.2 476.6 L2039.6 464.7 L2050.8 452.6 L2077.1 426.0" stroke="#0000ff" stroke-width="4.0" stroke-dasharray="50 30" stroke-dashoffset="4.0"/>
<path d="M968.3 461.0 L1157.6 461.0 L1158.9 467.2 L1160.3 476.2 L1163.4 502.0 L1173.9 621.9 L1178.5 665.3 L1182.9 696.2 L1191.4 744.0 L1197.5 791.6 L1199.8 806.8 L1202.6 820.5 L1206.4 835.5 L1210.1 847.4 L1214.0 857.1 L1217.9 864.4 L1221.9 869.5 L1223.9 871.3 L1226.0 872.6 L1228.1 873.4 L1230.3 873.7 L1233.1 873.3 L1235.9 872.3 L1238.8 870.5 L1241.9 867.9 L1248.6 860.4 L1255.8 850.1 L1262.7 838.3 L1270.3 823.6 L1302.3 754.4 L1310.3 738.1 L1317.7 724.4 L1325.9 711.0 L1334.5 698.8 L1343.8 687.5 L1354.2 676.5 L1367.4 664.4 L1381.3 653.1 L1396.1 642.5 L1412.2 632.4 L1437.1 618.6 L1474.4 599.6 L1524.2 573.4 L1547.9 561.6 L1568.5 552.4 L1589.7 544.0 L1611.8 536.3 L1635.2 529.3 L1659.8 522.9 L1686.6 516.8 L1718.8 510.4 L1753.0 504.2 L1788.4 498.6 L1824.8 493.4 L1862.3 488.8 L1901.3 484.6 L1941.8 480.8 L1984.6 477.5 L2031.3 474.4 L2077.1 471.9" stroke="#0000ff" stroke-width="4.0"/>
<path d="M968.3 461.0 L1157.6 461.0 L1163.6 529.2 L1169.5 587.5 L1175.2 636.5 L1180.8 675.8 L1186.2 705.4 L1188.9 716.8 L1191.6 725.9 L1194.2 732.9 L1196.9 737.8 L1199.7 740.8 L1201.1 741.5 L1202.6 741.8 L1204.8 741.2 L1207.1 739.6 L1209.4 736.8 L1211.9 732.9 L1217.0 721.7 L1222.9 705.3 L1226.8 692.0 L1230.2 678.2 L1238.6 634.9 L1241.4 622.2 L1246.1 605.7 L1251.5 590.5 L1257.0 578.3 L1259.9 573.3 L1262.8 569.0 L1265.8 565.5 L1268.8 562.7 L1271.9 560.6 L1275.1 559.3 L1277.8 558.7 L1280.6 558.6 L1283.5 558.9 L1286.5 559.8 L1293.2 563.1 L1307.7 572.9 L1314.0 576.4 L1317.6 577.7 L1321.4 578.6 L1325.1 578.9 L1329.0 578.7 L1333.2 577.9 L1337.5 576.7 L1341.9 574.8 L1346.7 572.3 L1355.5 566.8 L1375.9 552.5 L1386.0 546.6 L1396.7 541.8 L1408.7 537.8 L1421.5 534.6 L1454.7 527.3 L1527.6 511.9 L1575.0 502.9 L1617.7 496.0 L1653.6 491.1 L1691.1 487.0 L1730.7 483.4 L1773.2 480.5 L1841.7 477.0 L1997.3 471.6 L2077.1 467.9" stroke="#ff0000" stroke-width="4.0"/>
<path d="M968.3 461.0 L1157.6 461.0 L1167.3 558.2 L1171.2 591.9 L1174.8 618.5 L1178.3 639.2 L1181.6 653.6 L1183.2 658.5 L1184.8 662.0 L1186.4 664.1 L1188.0 664.8 L1189.3 664.3 L1190.6 663.0 L1193.3 657.7 L1196.0 648.8 L1198.8 636.4 L1203.7 607.7 L1216.6 521.8 L1220.3 500.7 L1223.7 484.2 L1226.7 472.7 L1229.5 464.6 L1232.4 459.5 L1233.8 458.0 L1235.3 457.3 L1236.6 457.3 L1237.9 457.8 L1240.5 460.3 L1243.2 464.9 L1246.0 471.6 L1249.2 481.5 L1252.7 494.5 L1264.0 544.3 L1267.9 558.8 L1270.4 565.8 L1273.1 570.9 L1275.8 573.9 L1277.2 574.7 L1278.5 574.9 L1280.0 574.7 L1281.4 574.0 L1284.3 571.1 L1287.4 566.2 L1290.7 559.3 L1296.5 543.2 L1308.4 504.8 L1311.2 497.1 L1314.0 490.7 L1316.8 485.7 L1319.5 482.0 L1322.2 479.7 L1325.0 478.7 L1327.4 478.8 L1329.9 479.8 L1332.5 481.6 L1335.2 484.3 L1341.4 492.6 L1353.8 513.4 L1359.1 521.2 L1362.1 524.6 L1364.8 526.9 L1367.4 528.3 L1369.8 528.7 L1372.1 528.3 L1374.4 527.0 L1376.9 525.0 L1379.6 522.2 L1384.4 515.6 L1396.0 497.7 L1399.1 493.7 L1401.8 490.6 L1405.0 487.9 L1408.3 485.8 L1411.6 484.5 L1415.1 483.8 L1418.0 483.8 L1421.0 484.2 L1427.4 486.4 L1434.7 490.6 L1446.5 499.2 L1450.9 502.0 L1455.6 504.1 L1459.9 504.7 L1464.0 503.9 L1468.6 501.9 L1484.9 490.7 L1493.6 485.8 L1501.1 482.9 L1508.0 481.7 L1512.4 481.7 L1517.1 482.4 L1532.2 486.7 L1537.2 487.9 L1542.2 488.5 L1547.4 488.6 L1553.7 488.0 L1560.5 486.8 L1567.4 485.0 L1587.4 478.8 L1593.7 477.4 L1599.3 476.8 L1606.0 477.1 L1621.2 480.0 L1628.1 480.5 L1634.1 479.9 L1652.7 476.9 L1668.0 475.4 L1690.3 474.2 L1747.7 472.0 L1815.9 469.9 L1889.4 468.1 L2077.1 464.7" stroke="#000000" stroke-width="8.0"/>
<path d="M968.3 461.0 L1157.6 461.0 L1167.8 559.4 L1172.3 596.3 L1174.7 611.3 L1177.0 621.7 L1179.3 627.6 L1180.4 628.9 L1181.5 629.2 L1182.6 628.3 L1183.7 626.4 L1185.9 619.3 L1188.2 607.7 L1190.6 591.3 L1195.0 553.7 L1204.8 454.8 L1207.3 433.2 L1209.6 416.4 L1211.8 403.9 L1213.9 395.3 L1216.0 390.6 L1217.1 389.7 L1218.1 389.8 L1219.2 390.9 L1220.2 393.0 L1222.4 400.2 L1224.6 411.5 L1227.0 427.2 L1231.2 463.3 L1240.7 556.8 L1245.3 592.9 L1247.4 605.0 L1249.4 613.5 L1251.4 618.3 L1252.4 619.4 L1253.4 619.6 L1254.5 618.8 L1255.6 616.8 L1257.8 609.6 L1260.1 597.8 L1262.5 581.2 L1266.8 542.8 L1276.6 442.6 L1281.3 404.1 L1283.5 391.4 L1285.6 382.7 L1287.6 377.8 L1288.7 376.8 L1289.7 376.7 L1290.7 377.7 L1291.8 379.7 L1294.0 386.9 L1296.3 398.5 L1298.6 414.4 L1302.8 451.2 L1312.4 547.6 L1317.0 584.9 L1319.1 597.3 L1321.2 605.9 L1323.2 610.8 L1324.2 612.0 L1325.1 612.2 L1326.2 611.4 L1327.3 609.5 L1329.6 602.3 L1331.9 590.5 L1334.3 574.1 L1338.6 535.8 L1348.4 436.0 L1353.1 397.5 L1355.2 384.9 L1357.3 376.1 L1359.3 371.2 L1360.3 370.1 L1361.3 370.0 L1362.4 370.9 L1363.5 372.9 L1365.7 380.0 L1367.9 391.5 L1370.3 407.6 L1374.5 444.7 L1384.2 542.1 L1388.8 579.5 L1390.9 591.9 L1392.9 600.4 L1394.9 605.4 L1395.9 606.5 L1396.9 606.8 L1398.0 606.0 L1399.1 604.1 L1401.3 596.9 L1403.6 585.2 L1406.0 568.8 L1410.3 530.5 L1420.1 430.7 L1424.8 392.5 L1426.9 379.9 L1429.0 371.2 L1431.0 366.2 L1432.0 365.1 L1433.0 365.0 L1434.1 365.8 L1435.1 367.7 L1437.4 374.9 L1439.6 386.3 L1442.0 402.6 L1446.3 440.1 L1455.9 537.7 L1460.5 575.3 L1462.6 587.7 L1464.7 596.3 L1466.7 601.3 L1467.7 602.5 L1468.6 602.7 L1469.7 602.0 L1470.8 600.1 L1473.1 592.9 L1475.4 581.2 L1477.8 564.8 L1482.1 526.6 L1491.8 426.8 L1496.5 388.6 L1498.6 376.1 L1500.7 367.4 L1502.7 362.4 L1503.7 361.3 L1504.7 361.1 L1505.8 361.9 L1506.8 363.8 L1509.1 370.9 L1511.3 382.5 L1513.7 398.8 L1518.0 436.3 L1527.7 534.5 L1532.3 572.3 L1534.4 584.6 L1536.4 593.2 L1538.4 598.2 L1539.4 599.4 L1540.4 599.7 L1541.4 599.0 L1542.5 597.1 L1544.8 590.0 L1547.1 578.4 L1549.5 561.8 L1553.8 523.6 L1563.6 423.8 L1568.2 385.8 L1570.3 373.3 L1572.4 364.6 L1574.4 359.6 L1575.4 358.4 L1576.4 358.2 L1577.4 359.0 L1578.6 360.9 L1580.8 368.0 L1583.0 379.5 L1585.4 395.8 L1589.7 433.6 L1599.4 532.3 L1604.1 569.9 L1606.1 582.2 L1608.2 590.9 L1610.1 595.9 L1611.1 597.1 L1612.1 597.4 L1613.2 596.7 L1614.3 594.9 L1616.5 587.8 L1618.8 576.1 L1621.2 559.6 L1625.6 521.3 L1635.3 421.8 L1640.0 383.5 L1642.1 371.0 L1644.1 362.4 L1646.1 357.4 L1647.1 356.2 L1648.1 356.0 L1649.2 356.7 L1650.3 358.6 L1652.5 365.7 L1654.8 377.2 L1657.2 393.7 L1661.5 431.6 L1671.1 530.2 L1675.8 568.2 L1677.9 580.5 L1679.9 589.2 L1681.9 594.2 L1682.9 595.4 L1683.8 595.7 L1684.9 595.0 L1686.0 593.2 L1688.3 586.1 L1690.6 574.4 L1693.0 557.9 L1697.3 519.6 L1707.0 420.0 L1711.7 381.9 L1713.8 369.6 L1715.8 360.9 L1717.8 355.8 L1718.8 354.6 L1719.8 354.3 L1720.8 355.0 L1722.0 356.8 L1724.2 363.9 L1726.5 375.5 L1728.9 392.0 L1733.2 429.9 L1742.9 529.1 L1747.5 566.9 L1749.6 579.2 L1751.6 587.9 L1753.6 592.9 L1754.6 594.1 L1755.6 594.4 L1756.7 593.7 L1757.8 591.9 L1760.0 584.8 L1762.3 573.1 L1764.7 556.6 L1769.0 518.6 L1778.8 418.7 L1783.4 380.6 L1785.5 368.3 L1787.5 359.6 L1789.5 354.5 L1790.5 353.3 L1791.5 353.0 L1792.6 353.7 L1793.7 355.6 L1795.9 362.7 L1798.2 374.3 L1800.6 390.8 L1804.9 428.7 L1814.6 527.8 L1819.3 565.9 L1821.4 578.2 L1823.4 586.8 L1825.3 591.9 L1826.3 593.2 L1827.3 593.5 L1828.4 592.8 L1829.5 591.0 L1831.7 584.0 L1834.0 572.4 L1836.4 555.9 L1840.8 517.6 L1850.5 417.7 L1855.2 379.6 L1857.3 367.3 L1859.3 358.6 L1861.3 353.5 L1862.3 352.3 L1863.2 352.0 L1864.3 352.7 L1865.4 354.6 L1867.7 361.6 L1869.9 373.2 L1872.3 389.7 L1876.6 427.6 L1886.4 527.3 L1891.0 565.2 L1893.1 577.5 L1895.1 586.1 L1897.1 591.2 L1898.1 592.5 L1899.0 592.8 L1900.1 592.1 L1901.2 590.3 L1903.5 583.3 L1905.8 571.7 L1908.2 555.1 L1912.5 516.9 L1922.3 416.9 L1926.9 378.9 L1929.0 366.5 L1931.0 357.9 L1933.0 352.8 L1934.0 351.6 L1934.9 351.3 L1936.0 352.0 L1937.1 353.8 L1939.4 360.8 L1941.7 372.5 L1944.1 389.0 L1948.4 427.0 L1958.1 526.5 L1962.8 564.6 L1964.9 577.0 L1966.9 585.6 L1968.8 590.7 L1969.8 591.9 L1970.8 592.3 L1971.9 591.6 L1973.0 589.8 L1975.2 582.8 L1977.5 571.1 L1979.9 554.6 L1984.3 516.3 L1994.0 416.4 L1998.7 378.3 L2000.8 365.9 L2002.8 357.3 L2004.7 352.2 L2005.7 351.0 L2006.7 350.7 L2007.8 351.4 L2008.9 353.2 L2011.1 360.3 L2013.4 371.9 L2015.8 388.5 L2020.1 426.5 L2029.9 526.1 L2034.5 564.2 L2036.6 576.6 L2038.6 585.2 L2040.6 590.3 L2041.5 591.5 L2042.5 591.9 L2043.5 591.3 L2044.5 589.9 L2046.5 584.3 L2048.5 575.1 L2050.6 562.1 L2055.1 524.2 L2064.5 428.2 L2068.6 391.5 L2070.8 375.2 L2073.0 363.1 L2075.1 355.0 L2076.1 352.5 L2077.1 350.9" stroke="#808080" stroke-width="4.0"/>
</g>
<g font-family="'Liberation Serif', 'Times New Roman', serif">
<text transform="translate(957.77 983.20) scale(1.0000 1)" font-size="68.9" fill="#262626">0</text>
<text transform="translate(1319.56 983.20) scale(1.0000 1)" font-size="68.9" fill="#262626">2</text>
<text transform="translate(1679.03 983.20) scale(1.0000 1)" font-size="68.9" fill="#262626">4</text>
<text transform="translate(2039.38 983.20) scale(1.0000 1)" font-size="68.9" fill="#262626">6</text>
<text transform="translate(874.86 486.20) scale(1.0000 1)" font-size="68.9" fill="#262626">60</text>
<text transform="translate(874.86 662.50) scale(1.0000 1)" font-size="68.9" fill="#262626">59</text>
<text transform="translate(874.86 838.80) scale(1.0000 1)" font-size="68.9" fill="#262626">58</text>
</g>
</svg>
</body></html>
